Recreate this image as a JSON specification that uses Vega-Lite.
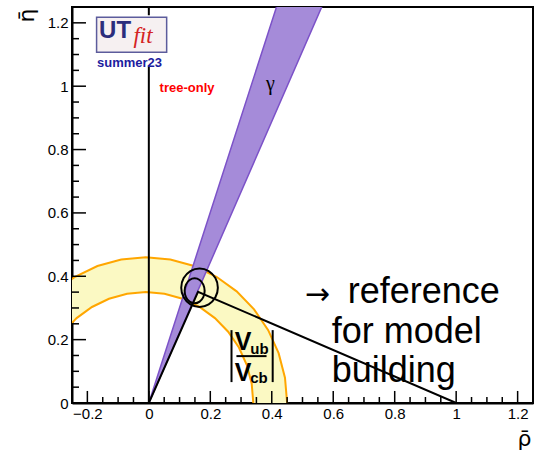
{
  "$schema": "https://vega.github.io/schema/vega-lite/v6.json",
  "width": 461,
  "height": 396,
  "autosize": {"type": "none"},
  "padding": {"left": 72, "top": 7, "right": 8, "bottom": 50},
  "background": "white",
  "config": {
    "view": {"stroke": "black", "strokeWidth": 2},
    "font": "Liberation Sans"
  },
  "datasets": {
    "rb_band": [
      {"i": 1, "rho": 0.4500, "eta": 0.0000},
      {"i": 2, "rho": 0.4430, "eta": 0.0799},
      {"i": 3, "rho": 0.4223, "eta": 0.1573},
      {"i": 4, "rho": 0.3884, "eta": 0.2300},
      {"i": 5, "rho": 0.3424, "eta": 0.2957},
      {"i": 6, "rho": 0.2857, "eta": 0.3524},
      {"i": 7, "rho": 0.2200, "eta": 0.3984},
      {"i": 8, "rho": 0.1473, "eta": 0.4323},
      {"i": 9, "rho": 0.0699, "eta": 0.4530},
      {"i": 10, "rho": -0.0100, "eta": 0.4600},
      {"i": 11, "rho": -0.0899, "eta": 0.4530},
      {"i": 12, "rho": -0.1673, "eta": 0.4323},
      {"i": 13, "rho": -0.2400, "eta": 0.3984},
      {"i": 14, "rho": -0.3057, "eta": 0.3524},
      {"i": 15, "rho": -0.3624, "eta": 0.2957},
      {"i": 16, "rho": -0.2781, "eta": 0.2250},
      {"i": 17, "rho": -0.2350, "eta": 0.2681},
      {"i": 18, "rho": -0.1850, "eta": 0.3031},
      {"i": 19, "rho": -0.1297, "eta": 0.3289},
      {"i": 20, "rho": -0.0708, "eta": 0.3447},
      {"i": 21, "rho": -0.0100, "eta": 0.3500},
      {"i": 22, "rho": 0.0508, "eta": 0.3447},
      {"i": 23, "rho": 0.1097, "eta": 0.3289},
      {"i": 24, "rho": 0.1650, "eta": 0.3031},
      {"i": 25, "rho": 0.2150, "eta": 0.2681},
      {"i": 26, "rho": 0.2581, "eta": 0.2250},
      {"i": 27, "rho": 0.2931, "eta": 0.1750},
      {"i": 28, "rho": 0.3189, "eta": 0.1197},
      {"i": 29, "rho": 0.3347, "eta": 0.0608},
      {"i": 30, "rho": 0.3400, "eta": 0.0000}
    ],
    "gamma_band": [
      {"i": 1, "rho": 0, "eta": 0},
      {"i": 2, "rho": 0.432, "eta": 1.3},
      {"i": 3, "rho": 0.585, "eta": 1.3},
      {"i": 4, "rho": 0, "eta": 0}
    ],
    "triangle": [
      {"i": 1, "rho": 0, "eta": 0},
      {"i": 2, "rho": 0.160, "eta": 0.351},
      {"i": 3, "rho": 1, "eta": 0}
    ],
    "contours": [
      {"level": "95%", "i": 1, "rho": 0.2246, "eta": 0.3640},
      {"level": "95%", "i": 2, "rho": 0.2166, "eta": 0.3943},
      {"level": "95%", "i": 3, "rho": 0.1948, "eta": 0.4165},
      {"level": "95%", "i": 4, "rho": 0.1650, "eta": 0.4246},
      {"level": "95%", "i": 5, "rho": 0.1352, "eta": 0.4165},
      {"level": "95%", "i": 6, "rho": 0.1134, "eta": 0.3943},
      {"level": "95%", "i": 7, "rho": 0.1054, "eta": 0.3640},
      {"level": "95%", "i": 8, "rho": 0.1134, "eta": 0.3337},
      {"level": "95%", "i": 9, "rho": 0.1352, "eta": 0.3115},
      {"level": "95%", "i": 10, "rho": 0.1650, "eta": 0.3034},
      {"level": "95%", "i": 11, "rho": 0.1948, "eta": 0.3115},
      {"level": "95%", "i": 12, "rho": 0.2166, "eta": 0.3337},
      {"level": "68%", "i": 1, "rho": 0.1816, "eta": 0.3540},
      {"level": "68%", "i": 2, "rho": 0.1772, "eta": 0.3737},
      {"level": "68%", "i": 3, "rho": 0.1653, "eta": 0.3881},
      {"level": "68%", "i": 4, "rho": 0.1490, "eta": 0.3934},
      {"level": "68%", "i": 5, "rho": 0.1327, "eta": 0.3881},
      {"level": "68%", "i": 6, "rho": 0.1208, "eta": 0.3737},
      {"level": "68%", "i": 7, "rho": 0.1164, "eta": 0.3540},
      {"level": "68%", "i": 8, "rho": 0.1208, "eta": 0.3343},
      {"level": "68%", "i": 9, "rho": 0.1327, "eta": 0.3199},
      {"level": "68%", "i": 10, "rho": 0.1490, "eta": 0.3146},
      {"level": "68%", "i": 11, "rho": 0.1653, "eta": 0.3199},
      {"level": "68%", "i": 12, "rho": 0.1772, "eta": 0.3343}
    ],
    "x_major_ticks": [
      {"rho": -0.2, "eta": 0}, {"rho": 0, "eta": 0}, {"rho": 0.2, "eta": 0}, {"rho": 0.4, "eta": 0},
      {"rho": 0.6, "eta": 0}, {"rho": 0.8, "eta": 0}, {"rho": 1.0, "eta": 0}, {"rho": 1.2, "eta": 0}
    ],
    "x_minor_ticks": [
      {"rho": -0.15, "eta": 0}, {"rho": -0.1, "eta": 0}, {"rho": -0.05, "eta": 0}, {"rho": 0.05, "eta": 0},
      {"rho": 0.1, "eta": 0}, {"rho": 0.15, "eta": 0}, {"rho": 0.25, "eta": 0}, {"rho": 0.3, "eta": 0},
      {"rho": 0.35, "eta": 0}, {"rho": 0.45, "eta": 0}, {"rho": 0.5, "eta": 0}, {"rho": 0.55, "eta": 0},
      {"rho": 0.65, "eta": 0}, {"rho": 0.7, "eta": 0}, {"rho": 0.75, "eta": 0}, {"rho": 0.85, "eta": 0},
      {"rho": 0.9, "eta": 0}, {"rho": 0.95, "eta": 0}, {"rho": 1.05, "eta": 0}, {"rho": 1.1, "eta": 0},
      {"rho": 1.15, "eta": 0}
    ],
    "y_major_ticks": [
      {"rho": -0.25, "eta": 0.2}, {"rho": -0.25, "eta": 0.4}, {"rho": -0.25, "eta": 0.6},
      {"rho": -0.25, "eta": 0.8}, {"rho": -0.25, "eta": 1.0}, {"rho": -0.25, "eta": 1.2}
    ],
    "y_minor_ticks": [
      {"rho": -0.25, "eta": 0.05}, {"rho": -0.25, "eta": 0.1}, {"rho": -0.25, "eta": 0.15},
      {"rho": -0.25, "eta": 0.25}, {"rho": -0.25, "eta": 0.3}, {"rho": -0.25, "eta": 0.35},
      {"rho": -0.25, "eta": 0.45}, {"rho": -0.25, "eta": 0.5}, {"rho": -0.25, "eta": 0.55},
      {"rho": -0.25, "eta": 0.65}, {"rho": -0.25, "eta": 0.7}, {"rho": -0.25, "eta": 0.75},
      {"rho": -0.25, "eta": 0.85}, {"rho": -0.25, "eta": 0.9}, {"rho": -0.25, "eta": 0.95},
      {"rho": -0.25, "eta": 1.05}, {"rho": -0.25, "eta": 1.1}, {"rho": -0.25, "eta": 1.15}
    ]
  },
  "encoding": {
    "x": {
      "field": "rho",
      "type": "quantitative",
      "scale": {"domain": [-0.25, 1.25], "nice": false, "zero": false},
      "axis": {
        "title": "\u03c1\u0304",
        "values": [-0.2, 0, 0.2, 0.4, 0.6, 0.8, 1, 1.2],
        "format": "~g",
        "ticks": false,
        "domainColor": "black",
        "domainWidth": 2,
        "grid": false,
        "labelFont": "Liberation Sans",
        "labelFontSize": 15,
        "labelColor": "black",
        "labelPadding": 3,
        "labelFlush": false,
        "labelOverlap": false,
        "labelBound": false,
        "titleFont": "DejaVu Sans",
        "titleFontSize": 22,
        "titleFontWeight": "normal",
        "titleColor": "black",
        "titleX": 452,
        "titleY": 42,
        "titleAlign": "center",
        "titleBaseline": "alphabetic"
      }
    },
    "y": {
      "field": "eta",
      "type": "quantitative",
      "scale": {"domain": [0, 1.25], "nice": false},
      "axis": {
        "title": "\u03b7\u0304",
        "values": [0, 0.2, 0.4, 0.6, 0.8, 1, 1.2],
        "format": "~g",
        "ticks": false,
        "domainColor": "black",
        "domainWidth": 2,
        "grid": false,
        "labelFont": "Liberation Sans",
        "labelFontSize": 15,
        "labelColor": "black",
        "labelPadding": 4,
        "labelFlush": false,
        "labelOverlap": false,
        "labelBound": false,
        "titleFont": "DejaVu Sans",
        "titleFontSize": 22,
        "titleFontWeight": "normal",
        "titleColor": "black",
        "titleAngle": -90,
        "titleX": -46,
        "titleY": 8,
        "titleAlign": "center",
        "titleBaseline": "middle"
      }
    }
  },
  "layer": [
    {
      "data": {"name": "rb_band"},
      "mark": {"type": "line", "fill": "#fbf9c3", "stroke": "#ffa600", "strokeWidth": 2, "clip": true},
      "encoding": {"order": {"field": "i", "type": "quantitative"}}
    },
    {
      "data": {"name": "gamma_band"},
      "mark": {"type": "line", "fill": "#a58bd9", "stroke": "#7c52c8", "strokeWidth": 1.5, "clip": true},
      "encoding": {"order": {"field": "i", "type": "quantitative"}}
    },
    {
      "data": {"values": [{"rho": 0, "eta": 0, "eta2": 1.25}]},
      "mark": {"type": "rule", "color": "black", "strokeWidth": 2},
      "encoding": {"y2": {"field": "eta2"}}
    },
    {
      "data": {"name": "triangle"},
      "mark": {"type": "line", "color": "black", "strokeWidth": 2, "clip": true},
      "encoding": {"order": {"field": "i", "type": "quantitative"}}
    },
    {
      "data": {"name": "contours"},
      "mark": {"type": "line", "interpolate": "cardinal-closed", "color": "black", "strokeWidth": 2},
      "encoding": {
        "detail": {"field": "level", "type": "nominal"},
        "order": {"field": "i", "type": "quantitative"}
      }
    },
    {
      "data": {"name": "x_major_ticks"},
      "mark": {"type": "rule", "color": "black", "strokeWidth": 1.5},
      "encoding": {"y2": {"datum": 0.038}}
    },
    {
      "data": {"name": "x_minor_ticks"},
      "mark": {"type": "rule", "color": "black", "strokeWidth": 1.5},
      "encoding": {"y2": {"datum": 0.019}}
    },
    {
      "data": {"name": "y_major_ticks"},
      "mark": {"type": "rule", "color": "black", "strokeWidth": 1.5},
      "encoding": {"x2": {"datum": -0.2045}}
    },
    {
      "data": {"name": "y_minor_ticks"},
      "mark": {"type": "rule", "color": "black", "strokeWidth": 1.5},
      "encoding": {"x2": {"datum": -0.2272}}
    },
    {
      "data": {"values": [{"rho": -0.172, "rho2": 0.06, "eta": 1.066, "eta2": 1.224}]},
      "mark": {"type": "rect", "fill": "white"},
      "encoding": {"x2": {"field": "rho2"}, "y2": {"field": "eta2"}}
    },
    {
      "data": {"values": [{"rho": -0.170, "rho2": 0.058, "eta": 1.107, "eta2": 1.218}]},
      "mark": {"type": "rect", "fill": "#f6f0f1", "stroke": "#5c5c9c", "strokeWidth": 1.5},
      "encoding": {"x2": {"field": "rho2"}, "y2": {"field": "eta2"}}
    },
    {
      "data": {"values": [{"rho": -0.162, "eta": 1.151, "label": "UT"}]},
      "mark": {"type": "text", "align": "left", "baseline": "alphabetic", "font": "Liberation Sans", "fontSize": 24, "fontWeight": "bold", "color": "#2b2d7c"},
      "encoding": {"text": {"field": "label"}}
    },
    {
      "data": {"values": [{"rho": -0.050, "eta": 1.136, "label": "fit"}]},
      "mark": {"type": "text", "align": "left", "baseline": "alphabetic", "font": "Liberation Serif", "fontSize": 23, "fontStyle": "italic", "color": "#d42323"},
      "encoding": {"text": {"field": "label"}}
    },
    {
      "data": {"values": [{"rho": -0.063, "eta": 1.073, "label": "summer23"}]},
      "mark": {"type": "text", "align": "center", "baseline": "middle", "font": "Liberation Sans", "fontSize": 13, "fontWeight": "bold", "color": "#1c1ca0"},
      "encoding": {"text": {"field": "label"}}
    },
    {
      "data": {"values": [{"rho": 0.035, "eta": 0.994, "label": "tree-only"}]},
      "mark": {"type": "text", "align": "left", "baseline": "middle", "font": "Liberation Sans", "fontSize": 13, "fontWeight": "bold", "color": "#ff0000"},
      "encoding": {"text": {"field": "label"}}
    },
    {
      "data": {"values": [{"rho": 0.396, "eta": 0.987, "label": "\u03b3"}]},
      "mark": {"type": "text", "align": "center", "baseline": "alphabetic", "font": "Liberation Serif", "fontSize": 20, "color": "black"},
      "encoding": {"text": {"field": "label"}}
    },
    {
      "data": {"values": [{"rho": 0.269, "eta": 0.066, "eta2": 0.230}, {"rho": 0.403, "eta": 0.066, "eta2": 0.230}]},
      "mark": {"type": "rule", "color": "black", "strokeWidth": 2},
      "encoding": {"y2": {"field": "eta2"}}
    },
    {
      "data": {"values": [{"rho": 0.285, "rho2": 0.383, "eta": 0.148}]},
      "mark": {"type": "rule", "color": "black", "strokeWidth": 2},
      "encoding": {"x2": {"field": "rho2"}}
    },
    {
      "data": {"values": [{"rho": 0.307, "eta": 0.167, "label": "V"}, {"rho": 0.307, "eta": 0.070, "label": "V"}]},
      "mark": {"type": "text", "align": "center", "baseline": "alphabetic", "font": "Liberation Sans", "fontSize": 25, "fontWeight": "bold", "color": "black"},
      "encoding": {"text": {"field": "label"}}
    },
    {
      "data": {"values": [{"rho": 0.330, "eta": 0.155, "label": "ub"}, {"rho": 0.330, "eta": 0.063, "label": "cb"}]},
      "mark": {"type": "text", "align": "left", "baseline": "alphabetic", "font": "Liberation Sans", "fontSize": 15, "fontWeight": "bold", "color": "black"},
      "encoding": {"text": {"field": "label"}}
    },
    {
      "data": {"values": [{"rho": 0.507, "eta": 0.341, "label": "\u2192"}]},
      "mark": {"type": "text", "align": "left", "baseline": "middle", "font": "DejaVu Sans", "fontSize": 30, "color": "black"},
      "encoding": {"text": {"field": "label"}}
    },
    {
      "data": {"values": [
        {"rho": 0.647, "eta": 0.3145, "label": "reference"},
        {"rho": 0.595, "eta": 0.189, "label": "for model"},
        {"rho": 0.595, "eta": 0.066, "label": "building"}
      ]},
      "mark": {"type": "text", "align": "left", "baseline": "alphabetic", "font": "Liberation Sans", "fontSize": 36, "color": "black"},
      "encoding": {"text": {"field": "label"}}
    }
  ]
}
